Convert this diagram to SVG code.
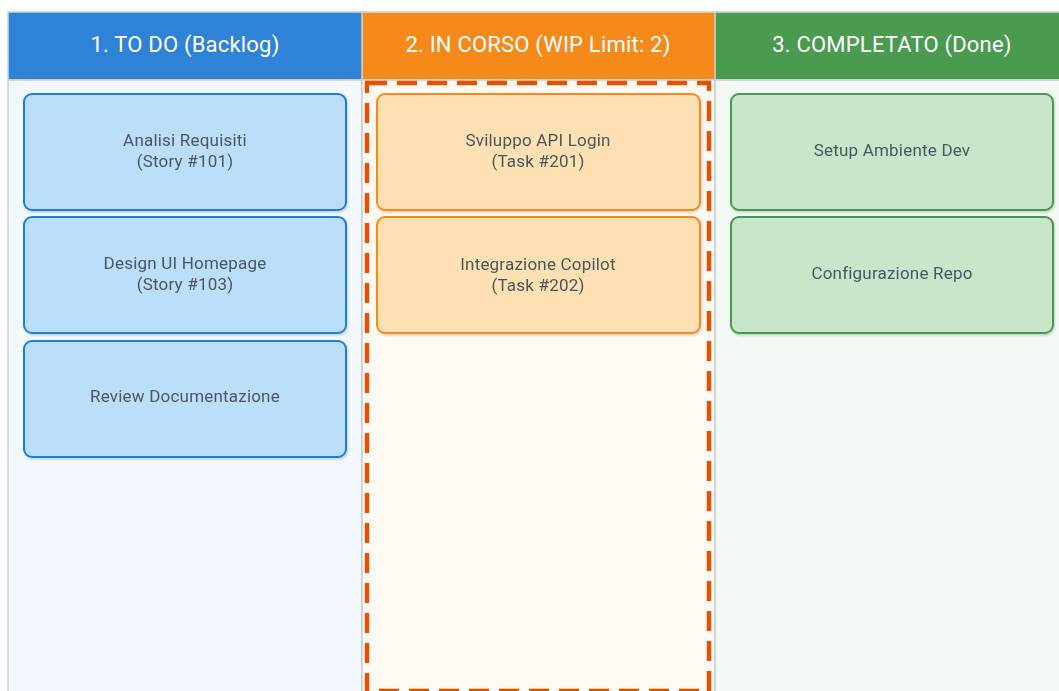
<svg xmlns="http://www.w3.org/2000/svg" width="1059" height="691" viewBox="0 0 1059 691">
<defs>
<filter id="sh" x="-5%" y="-5%" width="110%" height="115%">
<feDropShadow dx="1" dy="1.5" stdDeviation="1" flood-color="#000" flood-opacity="0.18"/>
</filter>
<style>
.hdr{font-family:Roboto,"Liberation Sans",sans-serif;font-size:22px;fill:#ffffff;text-anchor:middle;letter-spacing:0.2px}
.lbl{font-family:Roboto,"Liberation Sans",sans-serif;font-size:17px;fill:#4a5860;text-anchor:middle;letter-spacing:0.2px}
.col{stroke:#c6ced3;stroke-width:1.5}
.todo{fill:#bbdefb;stroke:#1e7fd9;stroke-width:2}
.prog{fill:#ffe0b2;stroke:#f68b1f;stroke-width:2}
.done{fill:#c8e6c9;stroke:#46994c;stroke-width:2}
</style>
</defs>
<rect width="1059" height="691" fill="#ffffff"/>
<g id="columns">
<rect class="col" x="8" y="12" width="354" height="690" fill="#f3f8fe"/>
<rect class="col" x="362" y="12" width="353" height="690" fill="#fef9f2"/>
<rect class="col" x="715" y="12" width="360" height="690" fill="#f3f9f4"/>
<rect x="8.75" y="12.75" width="352.5" height="66.5" fill="#2f83d7"/>
<rect x="362.75" y="12.75" width="351.5" height="66.5" fill="#f58a1a"/>
<rect x="715.75" y="12.75" width="358" height="66.5" fill="#4a9a4f"/>
<line class="col" x1="8" y1="80" x2="1075" y2="80"/>
<text class="hdr" x="185" y="52">1. TO DO (Backlog)</text>
<text class="hdr" x="538" y="52">2. IN CORSO (WIP Limit: 2)</text>
<text class="hdr" x="892" y="52">3. COMPLETATO (Done)</text>
</g>
<g id="wip-limit">
<rect x="367" y="83" width="342" height="608" fill="none" stroke="#e65100" stroke-width="4.5" stroke-dasharray="20 10"/>
</g>
<g id="connectors"></g>
<g id="card-101" filter="url(#sh)">
<rect class="todo" x="24" y="94" width="322" height="116" rx="8"/>
<text class="lbl" x="185" y="146">Analisi Requisiti</text>
<text class="lbl" x="185" y="167">(Story #101)</text>
</g>
<g id="card-103" filter="url(#sh)">
<rect class="todo" x="24" y="217" width="322" height="116" rx="8"/>
<text class="lbl" x="185" y="269">Design UI Homepage</text>
<text class="lbl" x="185" y="290">(Story #103)</text>
</g>
<g id="card-review" filter="url(#sh)">
<rect class="todo" x="24" y="341" width="322" height="116" rx="8"/>
<text class="lbl" x="185" y="402">Review Documentazione</text>
</g>
<g id="card-201" filter="url(#sh)">
<rect class="prog" x="377" y="94" width="323" height="116" rx="8"/>
<text class="lbl" x="538" y="146">Sviluppo API Login</text>
<text class="lbl" x="538" y="167">(Task #201)</text>
</g>
<g id="card-202" filter="url(#sh)">
<rect class="prog" x="377" y="217" width="323" height="116" rx="8"/>
<text class="lbl" x="538" y="270">Integrazione Copilot</text>
<text class="lbl" x="538" y="291">(Task #202)</text>
</g>
<g id="card-setup" filter="url(#sh)">
<rect class="done" x="731" y="94" width="322" height="116" rx="8"/>
<text class="lbl" x="892" y="156">Setup Ambiente Dev</text>
</g>
<g id="card-repo" filter="url(#sh)">
<rect class="done" x="731" y="217" width="322" height="116" rx="8"/>
<text class="lbl" x="892" y="279">Configurazione Repo</text>
</g>
</svg>
